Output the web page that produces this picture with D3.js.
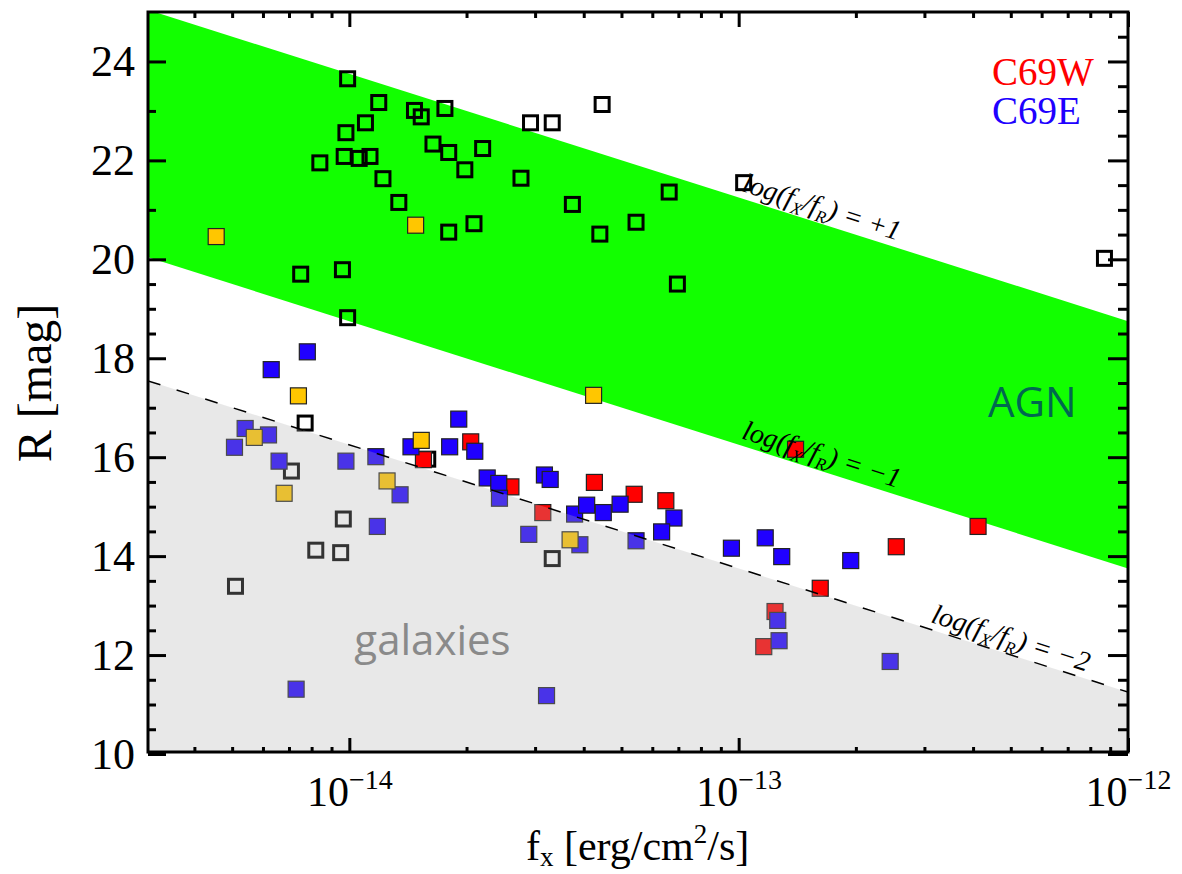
<!DOCTYPE html>
<html>
<head>
<meta charset="utf-8">
<script src="https://cdn.jsdelivr.net/npm/d3@7"></script>
<style>
  body { margin: 0; background: #fff; }
  svg { display: block; }
</style>
</head>
<body>
<svg id="chart" width="1182" height="874"></svg>
<script>
// ---- X-ray flux (erg/cm^2/s) and R magnitude of the sources ----
// unidentified / other sources (open squares)
const openFx = [9.9e-15, 1.19e-14, 1.47e-14, 1.53e-14, 1.76e-14, 1.10e-14, 9.8e-15, 2.92e-14, 3.32e-14, 4.46e-14,
                8.4e-15, 9.7e-15, 1.06e-14, 1.13e-14, 1.64e-14, 1.80e-14, 2.20e-14, 1.98e-14, 1.22e-14, 2.76e-14,
                1.34e-14, 3.74e-14, 6.63e-14, 5.45e-14, 4.40e-14, 1.80e-14, 2.09e-14, 7.5e-15, 9.6e-15, 6.96e-14,
                9.9e-15, 1.03e-13, 8.7e-13, 7.7e-15, 7.1e-15, 1.59e-14, 9.65e-15, 8.2e-15, 9.5e-15, 5.1e-15, 3.32e-14];
const openR  = [23.65, 23.17, 23.01, 22.88, 23.05, 22.76, 22.56, 22.76, 22.76, 23.13,
                21.95, 22.08, 22.04, 22.08, 22.33, 22.16, 22.24, 21.81, 21.63, 21.64,
                21.15, 21.11, 21.36, 20.75, 20.51, 20.55, 20.72, 19.70, 19.79, 19.50,
                18.82, 21.55, 20.02, 16.69, 15.72, 15.96, 14.75, 14.12, 14.07, 13.39, 13.95];

// C69W members
const redFx = [1.55e-14, 2.05e-14, 2.60e-14, 3.14e-14, 4.26e-14, 5.39e-14, 6.50e-14, 1.40e-13, 2.54e-13,
               4.12e-13, 1.62e-13, 1.24e-13, 1.16e-13];
const redR  = [15.95, 16.31, 15.40, 14.88, 15.49, 15.25, 15.12, 16.16, 14.19,
               14.60, 13.35, 12.88, 12.17];

// C69E members
const blueFx = [7.8e-15, 6.3e-15, 5.4e-15, 6.2e-15, 5.07e-15, 6.6e-15, 9.8e-15, 1.17e-14, 1.35e-14, 1.18e-14,
                1.44e-14, 1.91e-14, 1.81e-14, 2.10e-14, 2.26e-14, 2.42e-14, 2.43e-14, 3.17e-14, 3.28e-14, 2.89e-14,
                3.79e-14, 4.07e-14, 4.49e-14, 4.96e-14, 3.91e-14, 7.3e-15, 3.21e-14, 6.82e-14, 6.34e-14, 5.45e-14,
                9.58e-14, 1.17e-13, 1.29e-13, 1.94e-13, 1.26e-13, 1.27e-13, 2.45e-13];
const blueR  = [18.13, 17.77, 16.58, 16.45, 16.20, 15.92, 15.92, 16.01, 15.24, 14.60,
                16.21, 16.77, 16.21, 16.12, 15.58, 15.47, 15.17, 15.64, 15.55, 14.44,
                14.85, 15.03, 14.88, 15.05, 14.23, 11.31, 11.18, 14.77, 14.49, 14.31,
                14.16, 14.37, 13.99, 13.91, 12.70, 12.29, 11.87];

// stars / foreground sources (yellow)
const yellowFx = [4.55e-15, 1.48e-14, 4.24e-14, 7.4e-15, 5.7e-15, 6.8e-15, 1.25e-14, 1.53e-14, 3.69e-14];
const yellowR  = [20.46, 20.69, 17.25, 17.24, 16.40, 15.27, 15.52, 16.34, 14.33];

// ---- axes ----
const xDomain = [3.04e-15, 1e-12];
const yDomain = [10.04, 25];
const xMajorExp = [-14, -13, -12];
const yMajor = [10, 12, 14, 16, 18, 20, 22, 24];
const yMinorLeft = [23, 21, 19.5, 19, 18.5, 17, 16.5, 15.5, 15, 14.5, 13.5, 13, 12.5, 11.5, 11, 10.5];
const yMinorRight = d3.range(10.5, 25, 0.5).filter(v => v % 2 !== 0);

// ---- flux-ratio lines log(fx/fR) = k ----
const ratioK = [1, -1, -2];
const ratioText = ["+1", "\u22121", "\u22122"];
const ratioLabelFx = [1.0e-13, 1.0e-13, 3.06e-13];
const ratioZero = 5.5;
const seriesNames = ["C69W", "C69E"];
const seriesColors = ["#ff0000", "#2000ff"];
const regionNames = ["AGN", "galaxies"];

const margin = { top: 12, right: 54, bottom: 122, left: 148 };
const W = 1182 - margin.left - margin.right;
const H = 874 - margin.top - margin.bottom;

const svg = d3.select("#chart");
const g = svg.append("g").attr("transform", `translate(${margin.left},${margin.top})`);

const x = d3.scaleLog().domain(xDomain).range([0, W]);
const y = d3.scaleLinear().domain(yDomain).range([H, 0]);

// R magnitude on the line log(fx/fR) = k
const rOnLine = (k, fx) => 2.5 * (k - ratioZero - Math.log10(fx));

g.append("clipPath").attr("id", "plotClip")
  .append("rect").attr("width", W).attr("height", H);

const plot = g.append("g").attr("clip-path", "url(#plotClip)");

// AGN band between k = +1 and k = -1
const band = [
  [xDomain[0], rOnLine(1, xDomain[0])],
  [xDomain[1], rOnLine(1, xDomain[1])],
  [xDomain[1], rOnLine(-1, xDomain[1])],
  [xDomain[0], rOnLine(-1, xDomain[0])]
];
plot.append("path")
  .attr("d", d3.line().x(d => x(d[0])).y(d => y(d[1]))(band) + "Z")
  .attr("fill", "#12ff00");

// markers
const SZ = 16;
function squares(fx, r, cls) {
  return plot.append("g").selectAll("rect")
    .data(fx.map((f, i) => [f, r[i]]))
    .join("rect")
    .attr("class", cls)
    .attr("x", d => x(d[0]) - SZ / 2)
    .attr("y", d => y(d[1]) - SZ / 2)
    .attr("width", SZ)
    .attr("height", SZ);
}
squares(openFx, openR, "open")
  .attr("x", d => x(d[0]) - 7).attr("y", d => y(d[1]) - 7)
  .attr("width", 14).attr("height", 14)
  .attr("fill", "none").attr("stroke", "#000").attr("stroke-width", 3);
squares(redFx, redR, "w").attr("fill", seriesColors[0]).attr("stroke", "#222").attr("stroke-width", 1.2);
squares(blueFx, blueR, "e").attr("fill", seriesColors[1]).attr("stroke", "#222").attr("stroke-width", 1.2);
squares(yellowFx, yellowR, "star").attr("fill", "#ffc600").attr("stroke", "#222").attr("stroke-width", 1.2);

// galaxy region below k = -2 (translucent grey veil)
const galaxyArea = [
  [xDomain[0], rOnLine(-2, xDomain[0])],
  [xDomain[1], rOnLine(-2, xDomain[1])],
  [xDomain[1], yDomain[0]],
  [xDomain[0], yDomain[0]]
];
plot.append("path")
  .attr("d", d3.line().x(d => x(d[0])).y(d => y(d[1]))(galaxyArea) + "Z")
  .attr("fill", "rgb(176,176,176)")
  .attr("fill-opacity", 0.29);

// dashed k = -2 line
plot.append("line")
  .attr("x1", x(xDomain[0])).attr("y1", y(rOnLine(-2, xDomain[0])))
  .attr("x2", x(xDomain[1])).attr("y2", y(rOnLine(-2, xDomain[1])))
  .attr("stroke", "#000").attr("stroke-width", 1.5)
  .attr("stroke-dasharray", "13,17");

// labels along the ratio lines
ratioK.forEach((k, i) => {
  const f0 = ratioLabelFx[i], f1 = f0 * 2;
  const px = x(f0), py = y(rOnLine(k, f0));
  const ang = Math.atan2(y(rOnLine(k, f1)) - py, x(f1) - px) * 180 / Math.PI;
  const t = g.append("text")
    .attr("transform", `translate(${px},${py}) rotate(${ang}) translate(0,-7)`)
    .attr("font-family", "'Liberation Serif', 'DejaVu Serif', serif")
    .attr("font-style", "italic")
    .attr("font-size", 28)
    .attr("fill", "#000");
  t.append("tspan").text("log(f");
  t.append("tspan").attr("font-size", 17).attr("dy", 6).text("X");
  t.append("tspan").attr("dy", -6).text("/f");
  t.append("tspan").attr("font-size", 17).attr("dy", 6).text("R");
  t.append("tspan").attr("dy", -6).text(") = " + ratioText[i]);
});

// region names
g.append("text")
  .attr("x", x(4.37e-13)).attr("y", y(16.81))
  .attr("font-family", "'Open Sans', 'Noto Sans', sans-serif")
  .attr("font-size", 42).attr("fill", "#00684f")
  .text(regionNames[0]);
g.append("text")
  .attr("x", x(1.03e-14)).attr("y", y(12.0))
  .attr("font-family", "'Open Sans', 'Noto Sans', sans-serif")
  .attr("font-size", 42).attr("fill", "#8a8a8a")
  .text(regionNames[1]);

// series names
seriesNames.forEach((s, i) => {
  g.append("text")
    .attr("x", W - 136).attr("y", 73 + i * 39)
    .attr("font-family", "'Liberation Serif', 'Times New Roman', serif")
    .attr("font-size", 39).attr("fill", seriesColors[i])
    .text(s);
});

// ---- axes ----
const serif = "'Liberation Serif', 'Times New Roman', serif";
const xMinor = [];
for (let e = -15; e <= -13; e++) for (let m = 2; m <= 9; m++) {
  const v = m * Math.pow(10, e);
  if (v > xDomain[0] && v < xDomain[1]) xMinor.push(v);
}
const xMajor = xMajorExp.map(e => Math.pow(10, e));

function styleAxis(sel) {
  sel.select(".domain").remove();
  sel.selectAll(".tick line").attr("stroke", "#000").attr("stroke-width", 3);
}

// bottom
g.append("g").attr("transform", `translate(0,${H})`)
  .call(d3.axisBottom(x).tickValues(xMinor).tickSizeInner(-5).tickSizeOuter(0).tickFormat(() => ""))
  .call(styleAxis);
const bottomMajor = g.append("g").attr("transform", `translate(0,${H})`)
  .call(d3.axisBottom(x).tickValues(xMajor).tickSizeInner(-14).tickSizeOuter(0).tickPadding(24).tickFormat(() => ""))
  .call(styleAxis);
bottomMajor.selectAll(".tick text")
  .attr("font-family", serif).attr("font-size", 42).attr("fill", "#000")
  .each(function (d, i) {
    const t = d3.select(this);
    t.append("tspan").text("10");
    t.append("tspan").attr("font-size", 28).attr("dy", "-0.6em").text("\u2212" + Math.abs(xMajorExp[i]));
  });

// top (mirror)
g.append("g")
  .call(d3.axisTop(x).tickValues(xMinor).tickSizeInner(-6).tickSizeOuter(0).tickFormat(() => ""))
  .call(styleAxis);
g.append("g")
  .call(d3.axisTop(x).tickValues(xMajor).tickSizeInner(-15).tickSizeOuter(0).tickFormat(() => ""))
  .call(styleAxis);

// left
g.append("g")
  .call(d3.axisLeft(y).tickValues(yMinorLeft).tickSizeInner(-8).tickSizeOuter(0).tickFormat(() => ""))
  .call(styleAxis);
g.append("g")
  .call(d3.axisLeft(y).tickValues(yMajor).tickSizeInner(-18).tickSizeOuter(0).tickPadding(13).tickFormat(d3.format("d")))
  .call(styleAxis)
  .call(a => a.selectAll(".tick text").attr("font-family", serif).attr("font-size", 44).attr("fill", "#000"));

// right
g.append("g").attr("transform", `translate(${W},0)`)
  .call(d3.axisRight(y).tickValues(yMinorRight).tickSizeInner(-10).tickSizeOuter(0).tickFormat(() => ""))
  .call(styleAxis);
g.append("g").attr("transform", `translate(${W},0)`)
  .call(d3.axisRight(y).tickValues(yMajor).tickSizeInner(-20).tickSizeOuter(0).tickFormat(() => ""))
  .call(styleAxis);

// frame
g.append("rect").attr("width", W).attr("height", H)
  .attr("fill", "none").attr("stroke", "#000").attr("stroke-width", 3);

// axis titles
const xt = svg.append("text")
  .attr("x", margin.left + x(5.5e-14)).attr("y", 860)
  .attr("text-anchor", "middle")
  .attr("font-family", serif).attr("font-size", 42).attr("fill", "#000");
xt.append("tspan").text("f");
xt.append("tspan").attr("font-size", 27).attr("dy", 6).text("x");
xt.append("tspan").attr("dy", -6).text(" [erg/cm");
xt.append("tspan").attr("font-size", 27).attr("dy", -17).text("2");
xt.append("tspan").attr("dy", 17).text("/s]");

svg.append("text")
  .attr("transform", `translate(51,${margin.top + y(17.5)}) rotate(-90)`)
  .attr("text-anchor", "middle")
  .attr("font-family", serif).attr("font-size", 48).attr("fill", "#000")
  .text("R [mag]");
</script>
</body>
</html>
